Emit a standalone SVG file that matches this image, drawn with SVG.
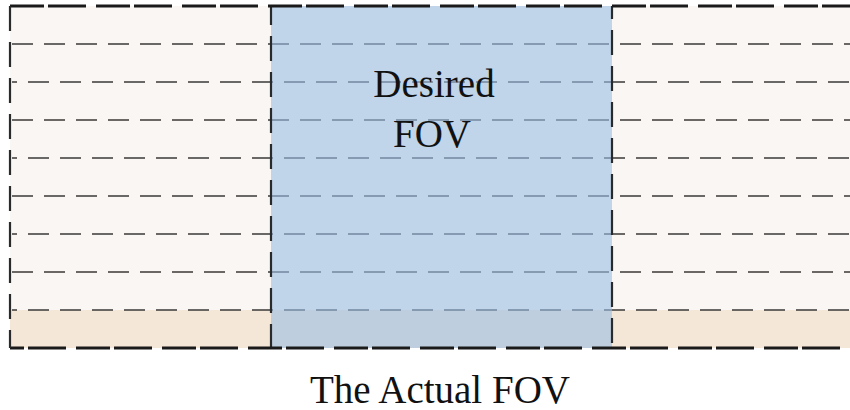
<svg xmlns="http://www.w3.org/2000/svg" width="850" height="410" viewBox="0 0 850 410">
  <style>
    .grid { stroke: #3a3a3a; stroke-width: 1.6; stroke-dasharray: 21 11; fill: none; }
    .gridb { stroke: #3a3a3a; stroke-width: 1.6; stroke-dasharray: 21 11; stroke-dashoffset: 16; fill: none; }
    .border { stroke: #1a1a1a; stroke-width: 3; stroke-dasharray: 34 4 38 10; fill: none; }
    .vborder { stroke: #2a2a2a; stroke-width: 2.2; stroke-dasharray: 25 11; fill: none; }
    .label { font-family: "Liberation Serif", "Times New Roman", serif; font-size: 39px; fill: #111; text-anchor: middle; }
  </style>
  <rect width="850" height="410" fill="#ffffff"/>
  <g id="actual-fov">
    <rect x="10" y="6" width="840" height="342" fill="#faf6f3"/>
    <rect x="10" y="310" width="840" height="38" fill="#f4e7d7"/>
  </g>
  <g id="grid-lines">
    <line class="grid" x1="12" y1="44" x2="850" y2="44"/>
    <line class="gridb" x1="12" y1="82" x2="850" y2="82"/>
    <line class="grid" x1="12" y1="120" x2="850" y2="120"/>
    <line class="gridb" x1="12" y1="158" x2="850" y2="158"/>
    <line class="grid" x1="12" y1="196" x2="850" y2="196"/>
    <line class="gridb" x1="12" y1="234" x2="850" y2="234"/>
    <line class="grid" x1="12" y1="272" x2="850" y2="272"/>
    <line class="gridb" x1="12" y1="310" x2="850" y2="310"/>
  </g>
  <g id="desired-fov">
    <rect x="271" y="6" width="341" height="342" fill="rgb(153,190,228)" fill-opacity="0.6"/>
    <line class="vborder" x1="271" y1="6" x2="271" y2="348" stroke-dashoffset="6"/>
    <line class="vborder" x1="612" y1="6" x2="612" y2="348" stroke-dashoffset="12"/>
    <text class="label" x="434" y="97">Desired</text>
    <text class="label" x="432" y="147">FOV</text>
  </g>
  <g id="outer-border">
    <line class="border" x1="10" y1="6" x2="850" y2="6"/>
    <line class="border" x1="10" y1="348" x2="850" y2="348" stroke-dashoffset="20"/>
    <line class="vborder" x1="10" y1="6" x2="10" y2="348"/>
  </g>
  <text class="label" x="440" y="403">The Actual FOV</text>
</svg>
